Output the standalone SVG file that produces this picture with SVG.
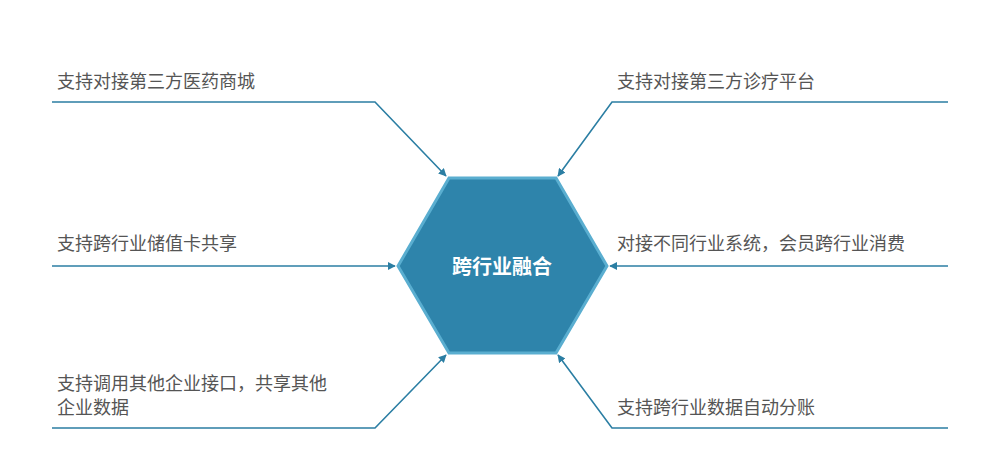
<svg xmlns="http://www.w3.org/2000/svg" width="988" height="449" viewBox="0 0 988 449">
<style>
.t{font-family:"Liberation Sans","Noto Sans CJK SC",sans-serif;font-size:18px;fill:#555}
.l{fill:none;stroke:#2b7ea3;stroke-width:1.6}
</style>
<defs><marker id="a" viewBox="0 0 10 10" refX="9" refY="5" markerWidth="8" markerHeight="8" markerUnits="userSpaceOnUse" orient="auto"><path d="M0,0L10,5L0,10z" fill="#2b7ea3"/></marker></defs>
<rect width="988" height="449" fill="#fff"/>
<g id="connectors">
<path class="l" d="M52,102H375L446,176" marker-end="url(#a)"/>
<path class="l" d="M52,266H395" marker-end="url(#a)"/>
<path class="l" d="M52,428H375L446,355" marker-end="url(#a)"/>
<path class="l" d="M948,102H612L558,176" marker-end="url(#a)"/>
<path class="l" d="M948,266H610" marker-end="url(#a)"/>
<path class="l" d="M948,428H612L558,355" marker-end="url(#a)"/>
</g>
<g id="center"><polygon points="398,266 449,178 556,178 607,266 556,353 449,353" fill="#2e84ab" stroke="#5aaed0" stroke-width="3"/>
<text x="502" y="274" text-anchor="middle" font-family="'Liberation Serif','Noto Sans CJK SC',serif" font-size="20" font-weight="bold" fill="#fff">跨行业融合</text></g>
<g id="n1"><text class="t" x="57" y="88">支持对接第三方医药商城</text></g>
<g id="n2"><text class="t" x="57" y="250">支持跨行业储值卡共享</text></g>
<g id="n3"><text class="t" x="57" y="390">支持调用其他企业接口，共享其他</text><text class="t" x="57" y="414">企业数据</text></g>
<g id="n4"><text class="t" x="617" y="88">支持对接第三方诊疗平台</text></g>
<g id="n5"><text class="t" x="617" y="250">对接不同行业系统，会员跨行业消费</text></g>
<g id="n6"><text class="t" x="617" y="414">支持跨行业数据自动分账</text></g>
</svg>
